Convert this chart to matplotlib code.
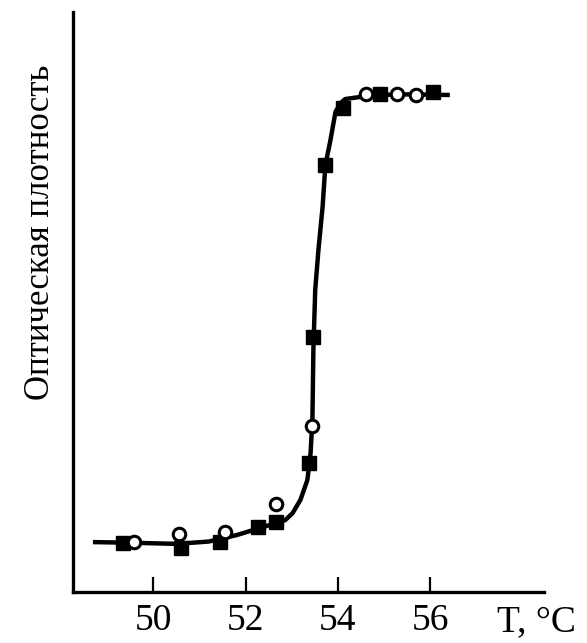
import matplotlib
matplotlib.use("Agg")
import matplotlib.pyplot as plt

# temperature, deg C / optical density (arbitrary units)
curve_t = [48.74, 49.5, 50.5, 51.2, 51.8, 52.3, 52.86, 53.02, 53.19, 53.34, 53.41, 53.45,
           53.47, 53.51, 53.58, 53.67, 53.73, 53.84, 53.95, 54.06, 54.16, 54.8, 55.5, 56.38]
curve_od = [0.086, 0.085, 0.083, 0.087, 0.098, 0.110, 0.124, 0.136, 0.159, 0.193, 0.240, 0.300,
            0.417, 0.521, 0.590, 0.664, 0.736, 0.779, 0.828, 0.843, 0.850, 0.857, 0.858, 0.857]

filled_t = [49.35, 50.59, 51.45, 52.26, 52.65, 53.38, 53.47, 53.73, 54.12, 54.92, 56.07]
filled_od = [0.084, 0.076, 0.086, 0.112, 0.121, 0.222, 0.440, 0.736, 0.834, 0.859, 0.862]

open_t = [49.59, 50.56, 51.56, 52.67, 53.45, 54.62, 55.29, 55.70]
open_od = [0.086, 0.100, 0.103, 0.152, 0.286, 0.859, 0.859, 0.857]

xticks = [50, 52, 54, 56]

plt.rcParams['font.family'] = ['Liberation Serif', 'DejaVu Serif']

fig = plt.figure(figsize=(5.87, 6.43), dpi=100)
ax = fig.add_axes([0.1244, 0.0793, 0.8024, 0.902])

ax.plot(curve_t, curve_od, color="black", lw=3.2, zorder=2, solid_joinstyle="round")
ax.plot(filled_t, filled_od, ls="none", marker="s", ms=10, color="black", zorder=3)
ax.plot(open_t, open_od, ls="none", marker="o", ms=9, mfc="white", mec="black", mew=2.2, zorder=4)

ax.set_xlim(48.26, 58.47)
ax.set_ylim(0, 1)
ax.set_xticks(xticks)
ax.set_yticks([])
ax.tick_params(axis="x", direction="in", length=11, width=1.6, labelsize=27, pad=8)
for s in ["top", "right"]:
    ax.spines[s].set_visible(False)
for s in ["left", "bottom"]:
    ax.spines[s].set_linewidth(2.4)

ax.set_ylabel("Оптическая плотность", fontsize=25, labelpad=8)
ax.yaxis.set_label_coords(-0.035, 0.62)
ax.text(58.3, -0.052, "T, °C", fontsize=27, ha="center", va="center", clip_on=False)

fig.savefig("out.png", dpi=100)
